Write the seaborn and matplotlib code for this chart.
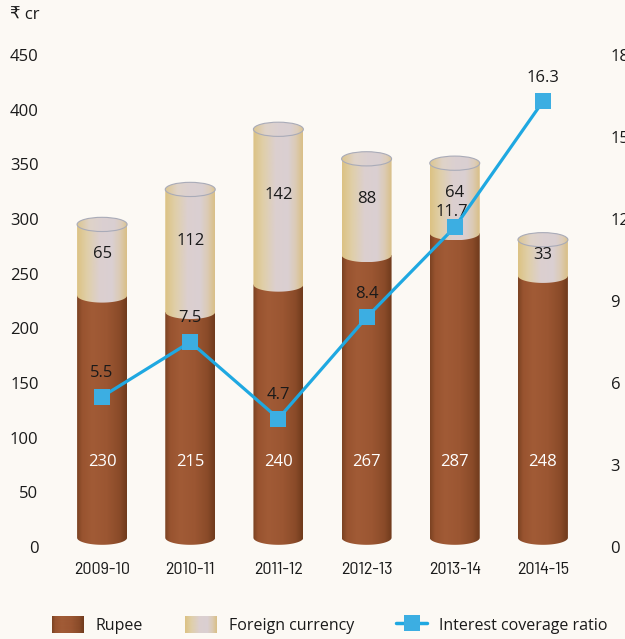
import numpy as np
import pandas as pd
import matplotlib
matplotlib.use("Agg")
import matplotlib.pyplot as plt
import seaborn as sns
from matplotlib.path import Path
from matplotlib.patches import PathPatch, Ellipse
from matplotlib.lines import Line2D
from matplotlib.colors import LinearSegmentedColormap
from matplotlib.legend_handler import HandlerBase
from matplotlib.image import BboxImage
from matplotlib.transforms import Bbox, TransformedBbox

# ---------------- data ----------------
years = ["2009-10", "2010-11", "2011-12", "2012-13", "2013-14", "2014-15"]
rupee = [230, 215, 240, 267, 287, 248]
foreign = [65, 112, 142, 88, 64, 33]
icr = [5.5, 7.5, 4.7, 8.4, 11.7, 16.3]
left_ticks = [0, 50, 100, 150, 200, 250, 300, 350, 400, 450]
right_ticks = [0, 3, 6, 9, 12, 15, 18]

# ---------------- style ----------------
BG = "#fcf9f4"
LINE_C = "#1fa8e1"
TXT = "#1a1a1a"
sns.set_theme(style="white", rc={"axes.facecolor": BG, "figure.facecolor": BG})
plt.rcParams['font.family'] = ['Open Sans', 'DejaVu Sans']
COND = ['Barlow Semi Condensed', 'Archivo Narrow', 'DejaVu Sans']

brown_cm = LinearSegmentedColormap.from_list("brown", [
    (0.0, "#7a4222"), (0.1, "#98532f"), (0.3, "#a15b36"),
    (0.6, "#9b5632"), (0.85, "#8a4b29"), (1.0, "#6f3a1c")])
foreign_cm = LinearSegmentedColormap.from_list("foreign", [
    (0.0, "#dcc283"), (0.2, "#e0cfa8"), (0.45, "#dccfcf"),
    (0.7, "#dad0d2"), (0.85, "#dccbb6"), (1.0, "#d9bf86")])
cap_cm = LinearSegmentedColormap.from_list("cap", [
    (0.0, "#dcc68f"), (0.25, "#dfd3c8"), (0.5, "#dbd0d1"),
    (0.75, "#d9cfd2"), (0.9, "#ddcdba"), (1.0, "#dbc48f")])

df = pd.DataFrame({"year": years, "rupee": rupee, "foreign": foreign, "icr": icr})
df["total"] = df["rupee"] + df["foreign"]

W, H = 625, 639
fig = plt.figure(figsize=(W / 100, H / 100), dpi=100)
ax = fig.add_axes([58 / W, 92 / H, 529 / W, 503 / H])
YMAX = 460
RATIO = 25  # left units per right unit
BAR_W = 50 / 88.2
RY = 6.5  # ellipse half-height in data units

sns.barplot(data=df, x="year", y="total", color="#dccfcf", width=BAR_W,
            saturation=1, ax=ax, errorbar=None)
sns.barplot(data=df, x="year", y="rupee", color="#9c5733", width=BAR_W,
            saturation=1, ax=ax, errorbar=None)

n = len(years)
tot_patches = ax.patches[:n]
rup_patches = ax.patches[n:2 * n]
for p in ax.patches:
    p.set_visible(False)

grad = np.linspace(0, 1, 256).reshape(1, -1)


def body_path(x0, w, ybot, ytop):
    cx = x0 + w / 2
    t = np.linspace(np.pi, 2 * np.pi, 60)
    arc = np.column_stack([cx + (w / 2) * np.cos(t), ybot + RY * np.sin(t)])
    verts = np.vstack([[x0, ytop], [x0, ybot], arc, [x0 + w, ytop], [x0, ytop]])
    codes = [Path.MOVETO] + [Path.LINETO] * (len(verts) - 2) + [Path.CLOSEPOLY]
    return Path(verts, codes)


def grad_fill(path, x0, w, y0, y1, cmap, z):
    im = ax.imshow(grad, cmap=cmap, extent=(x0, x0 + w, y0, y1), aspect="auto",
                   interpolation="bicubic", zorder=z)
    im.set_clip_path(PathPatch(path, transform=ax.transData))


BASE = RY + 2
for i in range(n):
    rp, tp = rup_patches[i], tot_patches[i]
    x0, w = rp.get_x(), rp.get_width()
    rtop = rp.get_height()
    ttop = tp.get_height()
    # rupee body
    grad_fill(body_path(x0, w, BASE, rtop), x0, w, BASE - RY, rtop, brown_cm, 2)
    # foreign body
    grad_fill(body_path(x0, w, rtop, ttop), x0, w, rtop - RY, ttop, foreign_cm, 3)
    # top cap
    cap = Ellipse((x0 + w / 2, ttop), w, 2 * RY)
    cap_path = cap.get_patch_transform().transform_path(cap.get_path())
    grad_fill(cap_path, x0, w, ttop - RY, ttop + RY, cap_cm, 4)
    ax.add_patch(Ellipse((x0 + w / 2, ttop), w, 2 * RY, facecolor="none",
                         edgecolor="#a9abb8", lw=0.8, zorder=4.5))
    # labels
    ax.text(i, 78, f"{rupee[i]}", color="white", ha="center", va="center",
            fontsize=12, zorder=6)
    ax.text(i, rtop + foreign[i] * 0.58, f"{foreign[i]}", color=TXT,
            ha="center", va="center", fontsize=12, zorder=6)

ax.set_xlim(-0.5, n - 0.5)
ax.set_ylim(0, YMAX)
ax.set_yticks(left_ticks)
ax.set_yticklabels([str(t) for t in left_ticks])
ax.set_xlabel("")
ax.set_ylabel("")
for s in ax.spines.values():
    s.set_visible(False)
ax.tick_params(axis="y", length=0, pad=14, labelsize=12, labelcolor=TXT)
ax.tick_params(axis="x", length=0, pad=11)
for lab in ax.get_xticklabels():
    lab.set_fontfamily(COND)
    lab.set_fontsize(13)
    lab.set_color(TXT)

# ---------------- line on secondary axis ----------------
ax2 = ax.twinx()
sns.lineplot(data=df, x="year", y="icr", ax=ax2, color=LINE_C, lw=2.3,
             marker="s", markersize=11.5, markeredgewidth=0,
             markerfacecolor="#3caee2", sort=False, zorder=5)
ax2.set_ylim(0, YMAX / RATIO)
ax2.set_yticks(right_ticks)
ax2.set_yticklabels([str(t) for t in right_ticks])
ax2.set_ylabel("")
ax2.set_xlabel("")
for s in ax2.spines.values():
    s.set_visible(False)
ax2.tick_params(axis="y", length=0, pad=17, labelsize=12, labelcolor=TXT)
ax2.set_xlim(-0.5, n - 0.5)
for i, v in enumerate(icr):
    inside = rupee[i] < v * RATIO < rupee[i] + foreign[i]
    ax2.annotate(f"{v}", (i, v), xytext=(-2 if inside else 0, 11 if inside else 17),
                 textcoords="offset points", ha="center", va="center",
                 fontsize=12, color=TXT)

fig.text(10 / W, 1 - 15 / H, "₹ cr", ha="left", va="center", fontsize=12,
         color=TXT)


# ---------------- legend ----------------
class GradHandler(HandlerBase):
    def __init__(self, cmap):
        super().__init__()
        self.cmap = cmap

    def create_artists(self, legend, orig_handle, xdescent, ydescent, width,
                       height, fontsize, trans):
        bb = Bbox.from_bounds(-xdescent, -ydescent, width, height)
        tbb = TransformedBbox(bb, trans)
        img = BboxImage(tbb, cmap=self.cmap, interpolation="bicubic")
        img.set_data(grad)
        return [img]


h_rup = Line2D([], [])
h_for = Line2D([], [], linestyle="-")
h_line = Line2D([], [], color=LINE_C, lw=2.5, marker="s", markersize=11.5,
                markeredgewidth=0, markerfacecolor="#3caee2")
leg = fig.legend([h_rup, h_for, h_line],
                 ["Rupee", "Foreign currency", "Interest coverage ratio"],
                 handler_map={h_rup: GradHandler(brown_cm),
                              h_for: GradHandler(foreign_cm)},
                 loc="center left", bbox_to_anchor=(52 / W, 1 - 625 / H),
                 ncol=3, frameon=False, fontsize=11.5, handlelength=2.0,
                 handleheight=1.2, handletextpad=0.75, columnspacing=2.6,
                 borderpad=0, borderaxespad=0)
for t in leg.get_texts():
    t.set_color(TXT)

fig.savefig("out.png", dpi=100, facecolor=BG)
